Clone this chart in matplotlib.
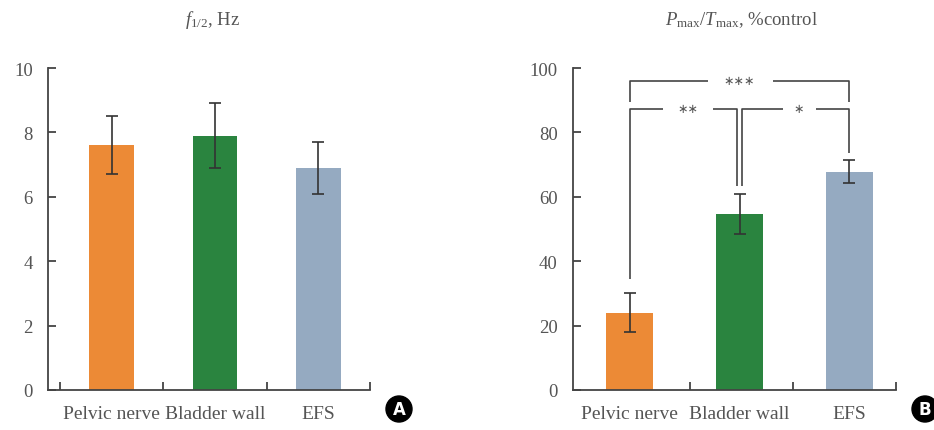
import matplotlib
matplotlib.use("Agg")
import matplotlib.pyplot as plt
from matplotlib.patches import Ellipse

# Data
categories = ["Pelvic nerve", "Bladder wall", "EFS"]
bar_colors = ["#EC8A36", "#2A843F", "#95AAC1"]

f_half = [7.6, 7.9, 6.9]
f_half_err = [0.9, 1.0, 0.8]

pmax_tmax = [24.0, 54.7, 67.8]
pmax_tmax_err = [6.0, 6.2, 3.6]

sig_labels = ["***", "**", "*"]

plt.rcParams["font.family"] = ["Liberation Serif", "DejaVu Serif"]
plt.rcParams["mathtext.fontset"] = "custom"
plt.rcParams["mathtext.rm"] = "Liberation Serif"
plt.rcParams["mathtext.it"] = "Liberation Serif:italic"

W, H = 934, 431
fig = plt.figure(figsize=(W / 100, H / 100), dpi=100)

TXT = "#555555"
LN = "#444444"


def px_rect(x0, x1, ytop, ybot):
    return [x0 / W, 1 - ybot / H, (x1 - x0) / W, (ybot - ytop) / H]


def style_axes(ax, ymax, ystep, xlim, boundaries):
    ax.set_xlim(*xlim)
    ax.set_ylim(0, ymax)
    for s in ("top", "right"):
        ax.spines[s].set_visible(False)
    for s in ("left", "bottom"):
        ax.spines[s].set_color(LN)
        ax.spines[s].set_linewidth(1.3)
    ax.set_yticks(range(0, ymax + 1, ystep))
    ax.tick_params(axis="y", direction="in", length=6, width=1.3, color=LN,
                   labelsize=13.5, labelcolor=TXT, pad=11)
    ax.set_xticks(range(len(categories)))
    ax.set_xticklabels(categories)
    ax.tick_params(axis="x", which="major", length=0, labelsize=14,
                   labelcolor=TXT, pad=11)
    ax.set_xticks(boundaries, minor=True)
    ax.tick_params(axis="x", which="minor", direction="in", length=6,
                   width=1.3, color=LN)


def draw_bars(ax, vals, errs):
    x = range(len(categories))
    ax.bar(x, vals, width=0.435, color=bar_colors, zorder=2)
    ax.errorbar(x, vals, yerr=errs, fmt="none", ecolor="#333333",
                elinewidth=1.2, capsize=4, capthick=1.2, zorder=3)


# Panel A
axA = fig.add_axes(px_rect(48, 370, 69, 391))
draw_bars(axA, f_half, f_half_err)
style_axes(axA, 10, 2, (-0.616, 2.5), [-0.5, 0.5, 1.5, 2.5])

# Panel B
axB = fig.add_axes(px_rect(573, 896, 69, 391))
draw_bars(axB, pmax_tmax, pmax_tmax_err)
style_axes(axB, 100, 20, (-0.514, 2.423), [0.55, 1.485, 2.423])

# Significance brackets
def bracket(ax, x0, x1, y, y0, y1, gap, label, tx):
    kw = dict(color=LN, lw=1.2, solid_capstyle="butt", zorder=4)
    ax.plot([x0, x0, gap[0]], [y0, y, y], **kw)
    ax.plot([gap[1], x1, x1], [y, y, y1], **kw)
    ax.text(tx, y, label.replace("*", "\u2217"), ha="center", va="center",
            fontsize=9, color=TXT, family="DejaVu Sans")

bracket(axB, 0, 2, 96, 89.5, 89.5, (0.714, 1.305), sig_labels[0], 1.0)
bracket(axB, 0, 0.975, 87.3, 34.5, 63.4, (0.305, 0.756), sig_labels[1], 0.53)
bracket(axB, 1.025, 2, 87.3, 63.4, 73.5, (1.395, 1.70), sig_labels[2], 1.54)

# Titles
fig.text(213 / W, 1 - 20 / H, r"$f_{\mathrm{1/2}}$, Hz", ha="center",
         va="center", fontsize=13.5, color=TXT)
fig.text(742 / W, 1 - 20 / H, r"$P_{\mathrm{max}}/T_{\mathrm{max}}$, %control",
         ha="center", va="center", fontsize=13.5, color=TXT)

# Panel badges
for cx, letter in ((399, "A"), (925, "B")):
    fig.add_artist(Ellipse((cx / W, 1 - 410 / H), 26 / W, 26 / H,
                           transform=fig.transFigure, color="black"))
    fig.text(cx / W, 1 - 410 / H, letter, ha="center", va="center",
             fontsize=12, fontweight="bold", color="white",
             family="DejaVu Sans")

fig.savefig("out.png", dpi=100)
